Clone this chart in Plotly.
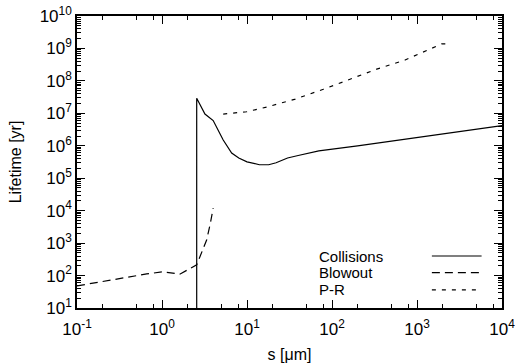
import plotly.graph_objects as go
import numpy as np

# ---- data ----
coll_s = [2.56, 2.56, 3.2, 4.0, 5.25, 6.6, 8.0, 10.0, 14.0, 18.0, 22.0, 30.0, 40.0, 70.0, 200.0, 2000.0, 10000.0]
coll_t = [10, 2.9e7, 9.5e6, 6.0e6, 1.5e6, 6.0e5, 4.2e5, 3.2e5, 2.6e5, 2.6e5, 3.0e5, 4.2e5, 5.0e5, 7.0e5, 1.0e6, 2.4e6, 4.2e6]

blow_s = [0.1, 0.3, 0.66, 1.03, 1.3, 1.62, 2.0, 2.56, 3.06, 3.35, 3.7, 4.0]
blow_t = [48, 80, 112, 131, 123, 110, 150, 213, 690, 1250, 4000, 1.2e4]

pr_s = [5.25, 9.9, 17, 37, 79, 163, 336, 725, 1470, 1950, 2340]
pr_t = [9.5e6, 1.12e7, 1.56e7, 2.75e7, 5.5e7, 1.12e8, 2.3e8, 4.4e8, 9.6e8, 1.38e9, 1.38e9]

series_names = ["Collisions", "Blowout", "P-R"]
series_dash = ["solid", "8px,5px", "4px,6px"]

x_major = [0.1, 1, 10, 100, 1000, 10000]
x_labels = ["10<sup>-1</sup>", "10<sup>0</sup>", "10<sup>1</sup>", "10<sup>2</sup>", "10<sup>3</sup>", "10<sup>4</sup>"]
y_exps = list(range(1, 11))
y_major = [10.0 ** e for e in y_exps]
y_labels = [f"10<sup>{e}</sup>" for e in y_exps]

x_minor = [m * d for d in [0.1, 1, 10, 100, 1000] for m in (2, 5, 8)]
y_minor = [m * 10.0 ** e for e in range(1, 10) for m in range(2, 10)]

fig = go.Figure()
for xs, ys, name, dash in zip([coll_s, blow_s, pr_s], [coll_t, blow_t, pr_t], series_names, series_dash):
    fig.add_trace(go.Scatter(x=xs, y=ys, mode="lines", name=name,
                             line=dict(color="black", width=1.2, dash=dash),
                             showlegend=False))

fam = "Liberation Sans, Arial, sans-serif"
tick_font = dict(family=fam, size=17, color="black")
title_font = dict(family=fam, size=16, color="black")
leg_font = dict(family=fam, size=15, color="black")

axis_common = dict(type="log", showgrid=False, zeroline=False, showline=True,
                   linecolor="black", linewidth=1.6, mirror="allticks",
                   ticks="inside", ticklen=8, tickwidth=1, tickcolor="black",
                   tickfont=tick_font, automargin=False)

fig.update_xaxes(range=[-1, 4], tickvals=x_major, ticktext=x_labels, ticklabelstandoff=5,
                 minor=dict(tickvals=x_minor, ticks="inside", ticklen=4, tickcolor="black"),
                 title=dict(text="s [μm]", font=title_font, standoff=16), **axis_common)
fig.update_yaxes(range=[1, 10], tickvals=y_major, ticktext=y_labels, ticklabelstandoff=0,
                 minor=dict(tickvals=y_minor, ticks="inside", ticklen=4, tickcolor="black"),
                 title=dict(text="Lifetime [yr]", font=title_font, standoff=14), **axis_common)

# legend (gnuplot style: label left, sample right)
leg_y = [0.178, 0.121, 0.062]
for name, dash, yy in zip(series_names, series_dash, leg_y):
    fig.add_annotation(x=0.564, y=yy, xref="paper", yref="paper", text=name,
                       showarrow=False, xanchor="left", yanchor="middle", font=leg_font)
    fig.add_shape(type="line", xref="paper", yref="paper", x0=0.835, x1=0.952, y0=yy, y1=yy,
                  line=dict(color="black", width=1.2, dash=dash))

fig.update_layout(width=517, height=363, margin=dict(l=77, r=15, t=16, b=55),
                  plot_bgcolor="white", paper_bgcolor="white", font=title_font)

fig.write_html("out.html")
